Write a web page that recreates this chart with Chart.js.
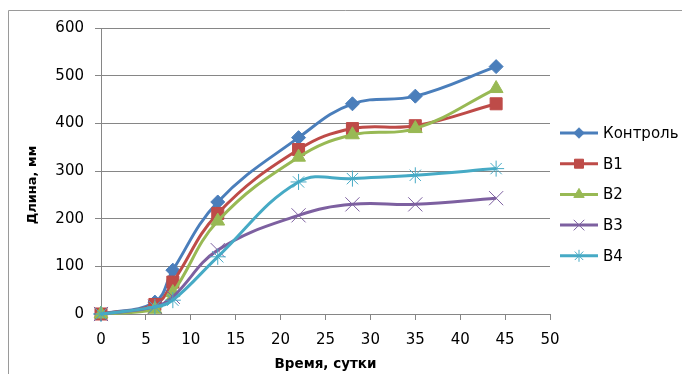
<!DOCTYPE html>
<html>
<head>
<meta charset="utf-8">
<script src="https://cdn.jsdelivr.net/npm/chart.js@4.4.1/dist/chart.umd.min.js"></script>
<style>
    body { margin: 0; background: #fff; overflow: hidden; }
    canvas { display: block; }
</style>
</head>
<body>
<canvas id="chart" width="682" height="374"></canvas>
<script>
// Data
const days = [0, 6, 8, 13, 22, 28, 35, 44];
const control = [0, 25, 92, 235, 370, 441, 457, 519];
const v1 = [0, 20, 67, 211, 345, 389, 395, 441];
const v2 = [0, 10, 45, 195, 329, 376, 389, 473];
const v3 = [0, 15, 36, 134, 207, 230, 230, 243];
const v4 = [0, 15, 29, 120, 277, 284, 291, 305];
const seriesNames = ['Контроль', 'В1', 'В2', 'В3', 'В4'];
const seriesValues = [control, v1, v2, v3, v4];
const xTitle = 'Время, сутки';
const yTitle = 'Длина, мм';

const colors = ['#4A7EBB', '#BE4B48', '#98B954', '#7D60A0', '#46AAC5'];
const markers = ['rectRot', 'rect', 'triangle', 'crossRot', 'star'];
const markerSizes = [7, 8.5, 8, 10, 8];

const FONT = 'DejaVu Sans';
const AXIS_COLOR = '#868686';

const datasets = seriesNames.map((name, i) => ({
    label: name,
    data: days.map((d, j) => ({ x: d, y: seriesValues[i][j] })),
    borderColor: colors[i],
    backgroundColor: colors[i],
    borderWidth: 3,
    tension: 0.4,
    pointStyle: markers[i],
    pointRadius: markerSizes[i],
    pointBorderWidth: 1,
    pointBorderColor: colors[i],
    pointBackgroundColor: colors[i],
    clip: false,
    order: seriesNames.length - i
}));

// Chart frame (left and top edges only are visible in the crop)
const framePlugin = {
    id: 'frame',
    beforeDraw(chart) {
        const ctx = chart.ctx;
        ctx.save();
        ctx.strokeStyle = '#9a9a9a';
        ctx.lineWidth = 1;
        ctx.beginPath();
        ctx.moveTo(8.5, 374);
        ctx.lineTo(8.5, 10.5);
        ctx.lineTo(682, 10.5);
        ctx.stroke();
        ctx.restore();
    }
};

// Excel-style legend on the right and rotated y title
const extrasPlugin = {
    id: 'extras',
    afterDraw(chart) {
        const ctx = chart.ctx;
        ctx.save();
        chart.data.datasets.forEach((ds, i) => {
            const y = 133 + i * 30.7;
            ctx.strokeStyle = ds.borderColor;
            ctx.lineWidth = 3;
            ctx.beginPath();
            ctx.moveTo(560, y);
            ctx.lineTo(598, y);
            ctx.stroke();
            ctx.fillStyle = ds.backgroundColor;
            ctx.lineWidth = 1;
            Chart.helpers.drawPoint(ctx, {
                pointStyle: ds.pointStyle,
                radius: ds.pointRadius * 0.75,
                borderWidth: 1,
                rotation: 0
            }, 579, y);
            ctx.fillStyle = '#000';
            ctx.font = '15px "' + FONT + '"';
            ctx.textAlign = 'left';
            ctx.textBaseline = 'middle';
            ctx.fillText(ds.label, 603, y + 1);
        });
        ctx.translate(33, 185);
        ctx.rotate(-Math.PI / 2);
        ctx.font = 'bold 13px "' + FONT + '"';
        ctx.textAlign = 'center';
        ctx.textBaseline = 'middle';
        ctx.fillStyle = '#000';
        ctx.fillText(yTitle, 0, 0);
        ctx.restore();
    }
};

new Chart(document.getElementById('chart'), {
    type: 'line',
    data: { datasets },
    plugins: [framePlugin, extrasPlugin],
    options: {
        responsive: false,
        animation: false,
        devicePixelRatio: 1,
        layout: { padding: { left: 0, right: 132, top: 28, bottom: 0 } },
        plugins: {
            legend: { display: false },
            tooltip: { enabled: false }
        },
        scales: {
            x: {
                type: 'linear',
                min: 0,
                max: 50,
                afterFit: scale => { scale.height = 60; },
                ticks: { stepSize: 5, color: '#000', padding: 11, maxRotation: 0, font: { family: FONT, size: 15 } },
                grid: { drawOnChartArea: false, drawTicks: true, tickLength: 6, color: AXIS_COLOR },
                border: { color: AXIS_COLOR },
                title: {
                    display: true,
                    text: xTitle,
                    color: '#000',
                    font: { family: FONT, size: 13.5, weight: 'bold' },
                    padding: { top: 0, bottom: 1 }
                }
            },
            y: {
                min: 0,
                max: 600,
                afterFit: scale => { scale.width = 101; },
                ticks: { stepSize: 100, color: '#000', padding: 11, font: { family: FONT, size: 15 } },
                grid: { color: AXIS_COLOR, tickLength: 6 },
                border: { color: AXIS_COLOR }
            }
        }
    }
});
</script>
</body>
</html>
